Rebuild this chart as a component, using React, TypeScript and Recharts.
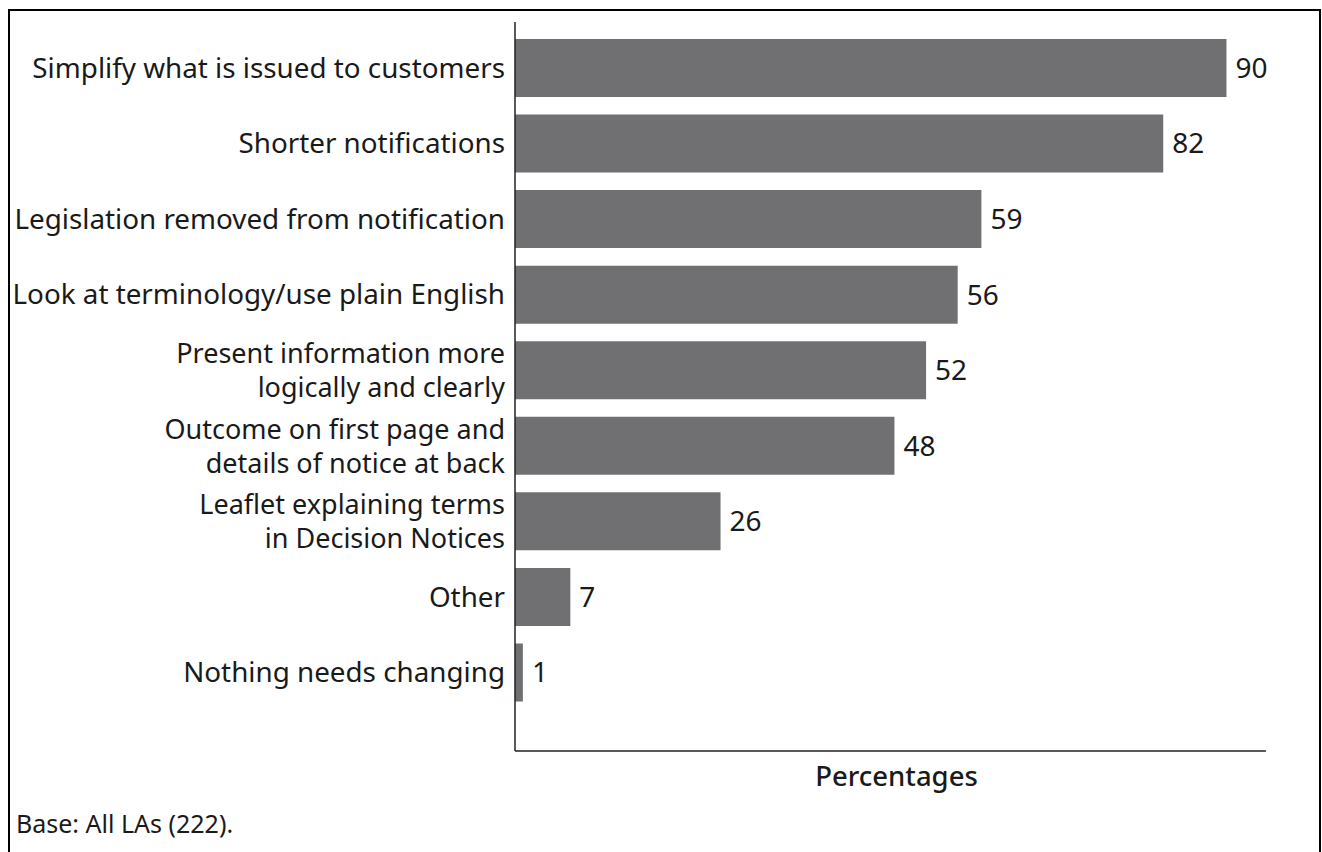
import React from "react";
import { BarChart, Bar, XAxis, YAxis, LabelList, Label } from "recharts";

const categories = [
  "Simplify what is issued to customers",
  "Shorter notifications",
  "Legislation removed from notification",
  "Look at terminology/use plain English",
  "Present information more\nlogically and clearly",
  "Outcome on first page and\ndetails of notice at back",
  "Leaflet explaining terms\nin Decision Notices",
  "Other",
  "Nothing needs changing",
];
const percentages = [90, 82, 59, 56, 52, 48, 26, 7, 1];
const xAxisTitle = "Percentages";
const baseNote = "Base: All LAs (222).";

const data = categories.map((c, i) => ({ category: c, value: percentages[i] }));

const FONT = "'Noto Sans', sans-serif";
const TEXT = "#1a1a1a";
const BAR = "#707072";

const CategoryTick = (props: any) => {
  const { x, y, payload } = props;
  const lines = String(payload.value).split("\n");
  const multi = lines.length > 1;
  const lh = 34;
  const fs = multi ? 27 : 27.8;
  return (
    <g>
      {lines.map((l, i) => {
        const cy = y + (i - (lines.length - 1) / 2) * lh;
        return (
          <text key={i} x={x} y={cy} dy={10} textAnchor="end" fill={TEXT} fontFamily={FONT} fontSize={fs}>
            {l}
          </text>
        );
      })}
    </g>
  );
};

const AxisTitle = (props: any) => {
  const vb = props.viewBox || {};
  const cx = vb.x + vb.width / 2 + 6;
  return (
    <text x={cx} y={vb.y + 35} textAnchor="middle" fill={TEXT} fontFamily={FONT} fontSize={27.5} fontWeight={500}>
      {xAxisTitle}
    </text>
  );
};

export default function App() {
  return (
    <div
      style={{
        position: "absolute",
        left: 8,
        top: 9,
        width: 1313,
        height: 860,
        boxSizing: "border-box",
        borderTop: "2px solid #000",
        borderLeft: "2px solid #000",
        borderRight: "2px solid #000",
        background: "#fff",
      }}
    >
      <BarChart
        width={1300}
        height={800}
        data={data}
        layout="vertical"
        margin={{ top: 11, right: 44, bottom: 10, left: 0 }}
      >
        <XAxis
          type="number"
          domain={[0, 95]}
          tick={false}
          tickLine={false}
          axisLine={{ stroke: "#222", strokeWidth: 1.5 }}
          height={50}
        >
          <Label content={<AxisTitle />} />
        </XAxis>
        <YAxis
          type="category"
          dataKey="category"
          width={505}
          tickLine={false}
          tickSize={0}
          tickMargin={10}
          axisLine={{ stroke: "#222", strokeWidth: 1.5 }}
          padding={{ top: 8, bottom: 41 }}
          tick={<CategoryTick />}
          interval={0}
        />
        <Bar dataKey="value" fill={BAR} barSize={58} isAnimationActive={false}>
          <LabelList
            dataKey="value"
            position="right"
            offset={9}
            fill={TEXT}
            fontFamily={FONT}
            fontSize={28}
          />
        </Bar>
      </BarChart>
      <div
        style={{
          position: "absolute",
          left: 6,
          top: 795,
          fontFamily: FONT,
          fontSize: 25,
          color: TEXT,
          whiteSpace: "nowrap",
        }}
      >
        {baseNote}
      </div>
    </div>
  );
}
